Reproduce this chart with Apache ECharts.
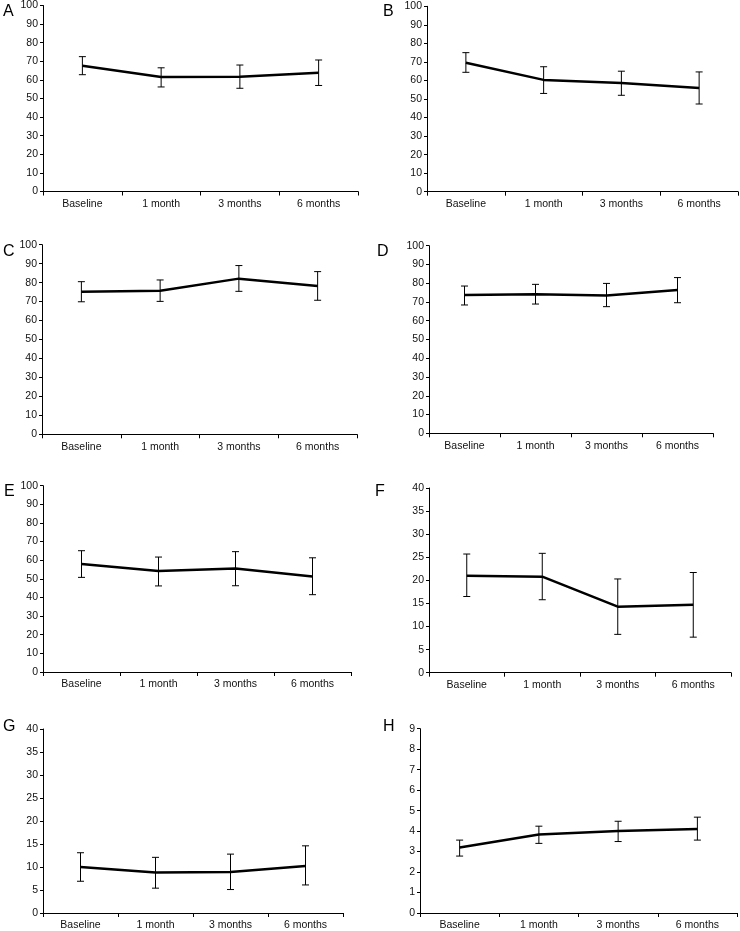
<!DOCTYPE html>
<html>
<head>
<meta charset="utf-8">
<script src="https://cdn.jsdelivr.net/npm/echarts@6/dist/echarts.min.js"></script>
<style>html,body{margin:0;padding:0;background:#fff}#c{width:740px;height:931px}</style>
</head>
<body>
<div id="c"></div>
<script>
const categories = ['Baseline', '1 month', '3 months', '6 months'];

const aMean = [67.6, 61.5, 61.7, 63.9];
const aLow  = [62.8, 56.2, 55.5, 57.0];
const aHigh = [72.5, 66.5, 68.0, 70.7];

const bMean = [69.6, 60.3, 58.6, 55.9];
const bLow  = [64.4, 53.0, 52.0, 47.3];
const bHigh = [75.0, 67.4, 65.0, 64.6];

const cMean = [75.2, 75.7, 82.1, 78.2];
const cLow  = [69.9, 70.1, 75.4, 70.7];
const cHigh = [80.5, 81.4, 89.0, 85.8];

const dMean = [73.7, 74.1, 73.5, 76.4];
const dLow  = [68.4, 68.9, 67.5, 69.6];
const dHigh = [78.5, 79.4, 79.9, 83.0];

const eMean = [58.0, 54.2, 55.5, 51.3];
const eLow  = [50.8, 46.2, 46.3, 41.5];
const eHigh = [65.1, 61.7, 64.6, 61.3];

const fMean = [21.0, 20.8, 14.3, 14.7];
const fLow  = [16.5, 15.8, 8.3, 7.7];
const fHigh = [25.7, 25.85, 20.3, 21.7];

const gMean = [10.0, 8.8, 8.9, 10.2];
const gLow  = [6.9, 5.4, 5.1, 6.1];
const gHigh = [13.1, 12.1, 12.8, 14.6];

const hMean = [3.2, 3.83, 4.0, 4.1];
const hLow  = [2.78, 3.4, 3.49, 3.56];
const hHigh = [3.56, 4.24, 4.48, 4.68];

// y-axis scales: [max, interval]
const yScales = [[100, 10], [100, 10], [100, 10], [100, 10], [100, 10], [40, 5], [40, 5], [9, 1]];
const panelLetters = ['A', 'B', 'C', 'D', 'E', 'F', 'G', 'H'];

const panels = [
  [aMean, aLow, aHigh], [bMean, bLow, bHigh], [cMean, cLow, cHigh], [dMean, dLow, dHigh],
  [eMean, eLow, eHigh], [fMean, fLow, fHigh], [gMean, gLow, gHigh], [hMean, hLow, hHigh]
];

// layout (pixels)
const grids = [
  {left: 43, top: 5.5, width: 315, height: 186},
  {left: 427, top: 6.3, width: 311, height: 185.4},
  {left: 42, top: 244.7, width: 315, height: 189.6},
  {left: 429, top: 245.7, width: 284, height: 187.6},
  {left: 43, top: 485.7, width: 308, height: 186.3},
  {left: 429, top: 488, width: 302, height: 184.7},
  {left: 43, top: 729, width: 300, height: 184.7},
  {left: 420, top: 728.7, width: 317, height: 185.3}
];
const letterPos = [[3, 4], [383, 4], [3, 244], [377, 244], [4, 484], [375, 484], [3, 719], [383, 719]];

const FONT = 'Liberation Sans, Arial, sans-serif';
const xAxes = [], yAxes = [], series = [], graphics = [];

panels.forEach((p, i) => {
  const [mean, low, high] = p;
  xAxes.push({
    type: 'category', gridIndex: i, data: categories, boundaryGap: true,
    axisLine: {lineStyle: {color: '#000', width: 1}},
    axisTick: {show: true, length: 4, alignWithLabel: false, interval: 0, lineStyle: {color: '#000'}},
    axisLabel: {interval: 0, color: '#111', fontSize: 10.5, fontFamily: FONT, margin: 7},
    splitLine: {show: false}
  });
  yAxes.push({
    type: 'value', gridIndex: i, min: 0, max: yScales[i][0], interval: yScales[i][1],
    axisLine: {show: true, lineStyle: {color: '#000', width: 1}},
    axisTick: {show: true, length: 3, lineStyle: {color: '#000'}},
    axisLabel: {color: '#111', fontSize: 10.5, fontFamily: FONT, margin: 5},
    splitLine: {show: false}
  });
  series.push({
    type: 'custom', xAxisIndex: i, yAxisIndex: i,
    data: categories.map((c, k) => [k, low[k], high[k]]),
    renderItem: function (params, api) {
      const lo = api.coord([api.value(0), api.value(1)]);
      const hi = api.coord([api.value(0), api.value(2)]);
      const hw = 3.5;
      const st = {stroke: '#000', lineWidth: 1};
      return {
        type: 'group',
        children: [
          {type: 'line', shape: {x1: lo[0], y1: lo[1], x2: hi[0], y2: hi[1]}, style: st},
          {type: 'line', shape: {x1: lo[0] - hw, y1: lo[1], x2: lo[0] + hw, y2: lo[1]}, style: st},
          {type: 'line', shape: {x1: hi[0] - hw, y1: hi[1], x2: hi[0] + hw, y2: hi[1]}, style: st}
        ]
      };
    },
    z: 2, silent: true
  });
  series.push({
    type: 'line', xAxisIndex: i, yAxisIndex: i, data: mean,
    symbol: 'none', lineStyle: {color: '#000', width: 2.5}, z: 3, silent: true
  });
  graphics.push({
    type: 'text', left: letterPos[i][0], top: letterPos[i][1],
    style: {text: panelLetters[i], font: '16px ' + FONT, fill: '#000'}
  });
});

const chart = echarts.init(document.getElementById('c'), null, {renderer: 'canvas'});
chart.setOption({
  animation: false,
  backgroundColor: '#fff',
  grid: grids.map(g => Object.assign({containLabel: false}, g)),
  xAxis: xAxes,
  yAxis: yAxes,
  series: series,
  graphic: graphics
});
</script>
</body>
</html>
